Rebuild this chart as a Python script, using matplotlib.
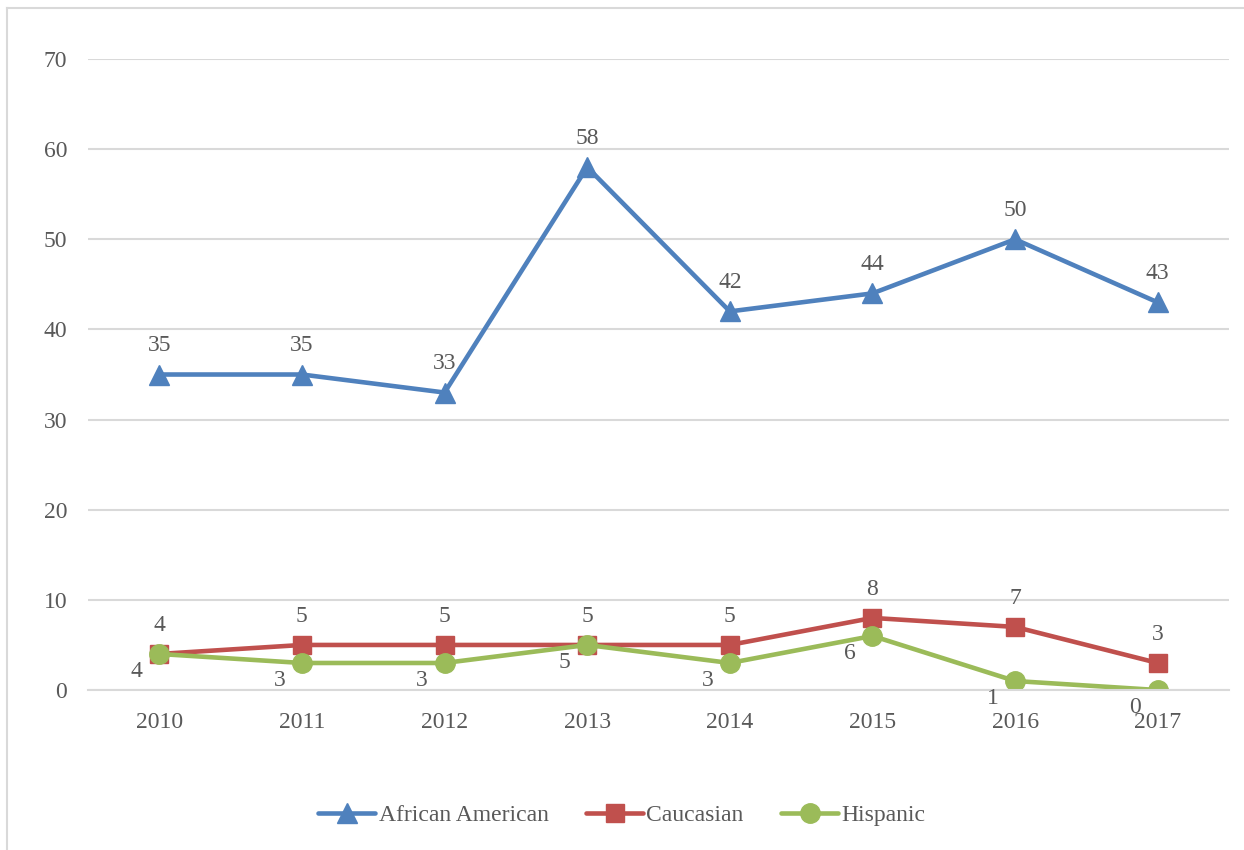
import matplotlib.pyplot as plt
from matplotlib.lines import Line2D

# Daten aus dem Diagramm
years = ['2010', '2011', '2012', '2013', '2014', '2015', '2016', '2017']
african_american = [35, 35, 33, 58, 42, 44, 50, 43]
caucasian = [4, 5, 5, 5, 5, 8, 7, 3]
hispanic = [4, 3, 3, 5, 3, 6, 1, 0]

plt.rcParams['font.family'] = ['Liberation Serif', 'DejaVu Serif']
text_col = '#595959'
fs = 17

fig = plt.figure(figsize=(12.44, 8.5), dpi=100)
ax = fig.add_axes([0.0707, 0.1882, 0.9173, 0.7424])

# Rahmen (nur oben und links sichtbar)
bx, by = 7.5 / 1244, 1 - 7.5 / 850
fig.add_artist(Line2D([bx, 1.0], [by, by], transform=fig.transFigure,
                      color='#d9d9d9', linewidth=1.5))
fig.add_artist(Line2D([bx, bx], [0.0, by], transform=fig.transFigure,
                      color='#d9d9d9', linewidth=1.5))

x = range(len(years))
ax.plot(x, african_american, color='#4f81bd', linewidth=3.3, marker='^', markersize=14,
        label='African American', solid_capstyle='round')
ax.plot(x, caucasian, color='#c0504d', linewidth=3.3, marker='s', markersize=13,
        label='Caucasian', solid_capstyle='round')
ax.plot(x, hispanic, color='#9bbb59', linewidth=3.3, marker='o', markersize=14,
        label='Hispanic', solid_capstyle='round')

# Datenbeschriftungen
for i, v in enumerate(african_american):
    ax.annotate(str(v), (i, v), xytext=(0, 13), textcoords='offset points',
                ha='center', va='bottom', fontsize=fs, color=text_col)
for i, v in enumerate(caucasian):
    ax.annotate(str(v), (i, v), xytext=(0, 13), textcoords='offset points',
                ha='center', va='bottom', fontsize=fs, color=text_col)
for i, v in enumerate(hispanic):
    ax.annotate(str(v), (i, v), xytext=(-12, -5), textcoords='offset points',
                ha='right', va='top', fontsize=fs, color=text_col)

ax.set_xlim(-0.5, len(years) - 0.5)
ax.set_ylim(0, 70)
ax.set_yticks(range(0, 71, 10))
ax.set_xticks(list(x))
ax.set_xticklabels(years)
ax.grid(True, axis='y', color='#d9d9d9', linewidth=1.5)
ax.set_axisbelow(True)
for s in ['top', 'right', 'left']:
    ax.spines[s].set_visible(False)
ax.spines['bottom'].set_color('#d9d9d9')
ax.spines['bottom'].set_linewidth(1.5)
ax.tick_params(axis='both', length=0, labelsize=fs, labelcolor=text_col)
ax.tick_params(axis='y', pad=15)
ax.tick_params(axis='x', pad=16)

leg = ax.legend(loc='center', ncol=3, frameon=False, fontsize=fs, handlelength=2.4,
                handletextpad=0.15, columnspacing=1.6, labelcolor=text_col)
leg.set_bbox_to_anchor((0.5, 1 - 815 / 850), transform=fig.transFigure)

fig.savefig('out.png', dpi=100, facecolor='white')
